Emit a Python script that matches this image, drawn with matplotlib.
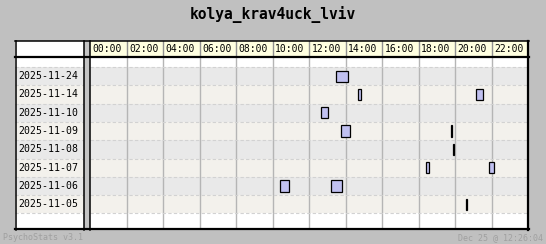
import matplotlib
matplotlib.use('Agg')
import matplotlib.pyplot as plt

# Session data (hours of day), one list per date, top to bottom
dates = ['2025-11-24', '2025-11-14', '2025-11-10', '2025-11-09',
         '2025-11-08', '2025-11-07', '2025-11-06', '2025-11-05']
starts = [[13.50], [14.70, 21.17], [12.68], [13.75, 19.80],
          [19.91], [18.43, 21.86], [10.41, 13.21], [20.63]]
ends = [[14.12], [14.83, 21.52], [13.02], [14.25, 19.81],
        [19.96], [18.58, 22.12], [10.90, 13.79], [20.68]]
hour_ticks = list(range(0, 24, 2))
hour_labels = ['%02d:00' % h for h in hour_ticks]

title = 'kolya_krav4uck_lviv'
footer_left = 'PsychoStats v3.1'
footer_right = 'Dec 25 @ 12:26:04'

W, H = 546, 244
BG = '#c0c0c0'
ROW_COLORS = ['#e9e9e9', '#f3f1ec']
MONO = 'DejaVu Sans Mono'


def px_axes(fig, x0, y0, x1, y1, **kw):
    """Add an axes given pixel box (top-left origin)."""
    return fig.add_axes([x0 / W, 1 - y1 / H, (x1 - x0) / W, (y1 - y0) / H], **kw)


fig = plt.figure(figsize=(W / 100, H / 100), dpi=100, facecolor=BG)

n = len(dates)
ylim = (n - 0.5 + 0.80, -1.05)

# main grid
ax = px_axes(fig, 90, 57, 528, 228)
ax.set_facecolor('white')
ax.set_xlim(0, 24)
ax.set_ylim(*ylim)
for i in range(n):
    ax.axhspan(i - 0.5, i + 0.5, color=ROW_COLORS[i % 2], lw=0, zorder=0)
for h in hour_ticks[1:]:
    ax.axvline(h, color='#b5b5b5', lw=1, zorder=1)
for i in range(n + 1):
    ax.axhline(i - 0.5, color='#d2d2d2', lw=0.8, ls=(0, (3, 2)), zorder=1)
for i in range(n):
    lefts = starts[i]
    widths = [e - s for s, e in zip(starts[i], ends[i])]
    ax.barh([i] * len(lefts), widths, left=lefts, height=0.62,
            color='#c0c0f0', edgecolor='black', linewidth=0.9, zorder=3)
ax.set_xticks([])
ax.set_yticks([])
for s in ax.spines.values():
    s.set_visible(False)

# header with hour labels
hx = px_axes(fig, 90, 41, 528, 56)
hx.set_facecolor('#ffffe0')
hx.set_xlim(0, 24)
hx.set_ylim(0, 1)
for h in hour_ticks[1:]:
    hx.axvline(h, color='#909090', lw=1)
for h, lab in zip(hour_ticks, hour_labels):
    hx.text(h + 0.15, 0.5, lab, ha='left', va='center', fontsize=7,
            family=MONO, color='black')
hx.set_xticks([])
hx.set_yticks([])
for s in hx.spines.values():
    s.set_visible(False)

# label column
lx = px_axes(fig, 15, 57, 84, 228)
lx.set_facecolor('white')
lx.set_xlim(0, 1)
lx.set_ylim(*ylim)
for i, d in enumerate(dates):
    lx.axhspan(i - 0.5, i + 0.5, color=ROW_COLORS[i % 2], lw=0, zorder=0)
    lx.text(0.05, i, d, ha='left', va='center', fontsize=7.1, family=MONO)
for i in range(n + 1):
    lx.axhline(i - 0.5, color='#d2d2d2', lw=0.8, ls=(0, (3, 2)), zorder=1)
lx.set_xticks([])
lx.set_yticks([])
for s in lx.spines.values():
    s.set_visible(False)

# frame lines overlay
fx = px_axes(fig, 0, 0, W, H)
fx.set_xlim(0, W)
fx.set_ylim(H, 0)
fx.axis('off')
fx.patch.set_alpha(0)
fx.fill_between([15, 84], 41, 56, color='white', lw=0, zorder=0)
fx.fill_between([84, 90], 40, 229, color='#c4c4c4', lw=0, zorder=1)
fx.plot([15, 528.5], [40.8, 40.8], color='black', lw=1.1, zorder=5)
fx.plot([15, 528.5], [56.5, 56.5], color='black', lw=1.6, zorder=5)
fx.plot([15, 528.5], [228.8, 228.8], color='black', lw=1.6, zorder=5)
fx.plot([15.5, 15.5], [40.5, 229.5], color='black', lw=1.1, zorder=5)
fx.plot([528.3, 528.3], [40.5, 229.5], color='black', lw=1.6, zorder=5)
fx.plot([84.3, 84.3], [40.5, 229.5], color='black', lw=1.1, zorder=5)
fx.plot([89.5, 89.5], [40.5, 229.5], color='black', lw=1.1, zorder=5)

fig.text(0.5, 1 - 14.5 / H, title, ha='center', va='center', fontsize=10.5,
         fontweight='bold', family=MONO)
fig.text(3 / W, 1 - 238 / H, footer_left, ha='left', va='center',
         fontsize=6, family=MONO, color='#a0a0a0')
fig.text(543 / W, 1 - 238 / H, footer_right, ha='right', va='center',
         fontsize=6, family=MONO, color='#a0a0a0')

fig.savefig('out.png', dpi=100, facecolor=BG)
